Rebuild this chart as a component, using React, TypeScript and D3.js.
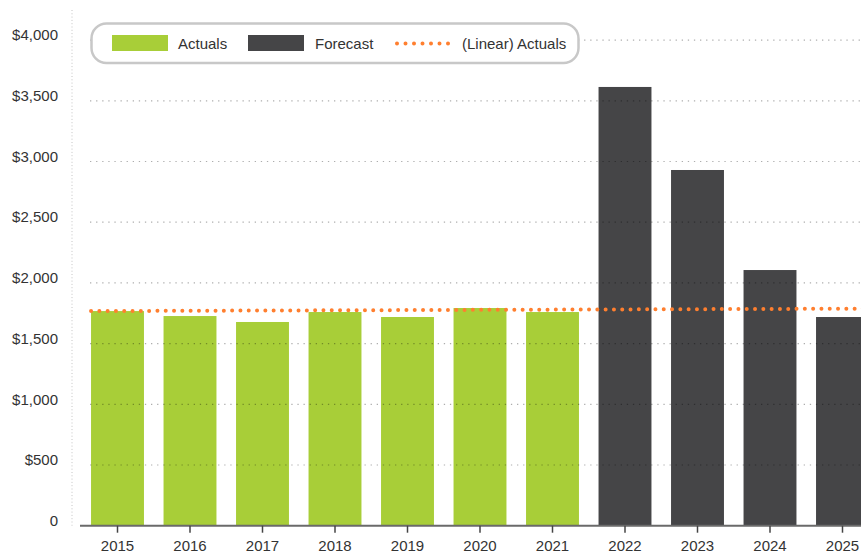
import React from "react";
import * as d3 from "d3";

const categories = ["2015", "2016", "2017", "2018", "2019", "2020", "2021", "2022", "2023", "2024", "2025"];
const actualYears = ["2015", "2016", "2017", "2018", "2019", "2020", "2021"];
const actualValues = [1768, 1727, 1678, 1760, 1719, 1793, 1760];
const forecastYears = ["2022", "2023", "2024", "2025"];
const forecastValues = [3614, 2930, 2106, 1719];
const trendStartValue = 1768;
const trendEndValue = 1788;
const yTicks = [0, 500, 1000, 1500, 2000, 2500, 3000, 3500, 4000];
const yTickLabels = ["0", "$500", "$1,000", "$1,500", "$2,000", "$2,500", "$3,000", "$3,500", "$4,000"];

const W = 861;
const H = 554;
const GREEN = "#a8ce38";
const DARK = "#454547";
const ORANGE = "#ff7f2f";
const TEXT = "#333333";
const FONT = "'Liberation Sans', Arial, Helvetica, sans-serif";

export default function App() {
  const x = d3.scaleBand<string>().domain(categories).range([81.25, 878.75]).paddingInner(0.27).paddingOuter(0.135);
  const y = d3.scaleLinear().domain([0, 4000]).range([525.7, 40.1]);
  const baseY = y(0);

  const trendLine = d3.line<[number, number]>().x((d) => d[0]).y((d) => d[1]);
  const trendPts: [number, number][] = [
    [x("2015")!, y(trendStartValue)],
    [x("2025")! + x.bandwidth(), y(trendEndValue)],
  ];

  return (
    <svg width={W} height={H} style={{ position: "absolute", left: 0, top: 0, overflow: "hidden", background: "#fff" }} fontFamily={FONT}>
      {/* left dotted axis */}
      <line x1={72} x2={72} y1={10} y2={baseY} stroke="#c4c4c4" strokeWidth={1} strokeDasharray="1 2.3" />
      {/* bars */}
      {actualYears.map((c, i) => (
        <rect key={c} x={x(c)} y={y(actualValues[i])} width={x.bandwidth()} height={baseY - y(actualValues[i])} fill={GREEN} />
      ))}
      {forecastYears.map((c, i) => (
        <rect key={c} x={x(c)} y={y(forecastValues[i])} width={x.bandwidth()} height={baseY - y(forecastValues[i])} fill={DARK} />
      ))}
      {/* gridlines */}
      {yTicks.slice(1).map((t) => (
        <line key={t} x1={90} x2={W} y1={y(t)} y2={y(t)} stroke="rgba(0,0,0,0.32)" strokeWidth={1.2} strokeDasharray="1.3 4.8" />
      ))}
      {/* y labels */}
      {yTicks.map((t, i) => (
        <text key={t} x={58} y={y(t) - 5} dy="0.35em" textAnchor="end" fontSize={15} fill={TEXT}>
          {yTickLabels[i]}
        </text>
      ))}
      {/* trend */}
      <path d={trendLine(trendPts)!} fill="none" stroke={ORANGE} strokeWidth={4} strokeLinecap="round" strokeDasharray="0 8.3" />
      {/* baseline */}
      <line x1={80} x2={W} y1={baseY} y2={baseY} stroke="#6a6a6a" strokeWidth={2} />
      {categories.map((c) => {
        const cx = x(c)! + x.bandwidth() / 2;
        return (
          <g key={c}>
            <line x1={cx} x2={cx} y1={baseY} y2={baseY + 7} stroke="#444" strokeWidth={1.5} />
            <text x={cx} y={551} textAnchor="middle" fontSize={15} fill={TEXT}>
              {c}
            </text>
          </g>
        );
      })}
      {/* legend */}
      <rect x={91.5} y={23.5} width={487} height={39.5} rx={15} fill="#fff" stroke="#c8c8c8" strokeWidth={2.5} />
      <rect x={112} y={35} width={56} height={16} fill={GREEN} />
      <text x={178} y={49} fontSize={15} fill={TEXT}>Actuals</text>
      <rect x={248} y={35} width={56} height={16} fill={DARK} />
      <text x={315} y={49} fontSize={15} fill={TEXT}>Forecast</text>
      <line x1={397} x2={449} y1={43.5} y2={43.5} stroke={ORANGE} strokeWidth={4} strokeLinecap="round" strokeDasharray="0 8.5" />
      <text x={462} y={49} fontSize={15} fill={TEXT}>(Linear) Actuals</text>
    </svg>
  );
}
